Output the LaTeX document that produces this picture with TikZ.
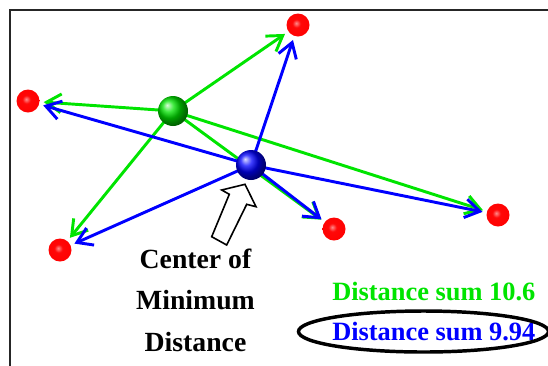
\documentclass[tikz,border=0pt]{standalone}
\usepackage{fontspec}
\setmainfont{Liberation Serif}
\usetikzlibrary{arrows.meta}
\usetikzlibrary{shadings}
\definecolor{ptgreen}{RGB}{0,228,0}
\definecolor{ptblue}{RGB}{0,0,255}
\pgfdeclareradialshading{redsphere}{\pgfpoint{-4bp}{4bp}}{color(0bp)=(red!45!white); color(9bp)=(red!97!white); color(32bp)=(red); color(48bp)=(red!80!black); color(60bp)=(red!80!black)}
\tikzset{
  redball/.style={circle, minimum size=17.25pt, inner sep=0pt, shading=redsphere},
  bigball/.style={circle, minimum size=22.5pt, inner sep=0pt, shading=ball},
  greenarrow/.style={draw=ptgreen, line width=2.2pt, -{Straight Barb[length=11pt,width=14pt]}, shorten >=3pt},
  bluearrow/.style={draw=ptblue, line width=2.2pt, -{Straight Barb[length=11pt,width=14pt]}, shorten >=3pt},
  bigtext/.style={font=\bfseries\fontsize{20.8}{25}\selectfont, inner sep=0pt},
  sumtext/.style={font=\bfseries\fontsize{19.8}{24}\selectfont, inner sep=0pt, anchor=base west}
}

\begin{document}
\begin{tikzpicture}[x=0.75pt,y=0.75pt,yscale=-1,xscale=1]
\useasboundingbox (0,0) rectangle (548,365);
\clip (0,0) rectangle (548,365);

%Frame
\draw [line width=1.5pt, color=black!85]  (9.5,380) -- (9.5,10) -- (570,10) ;

%Points
\node [redball] (ptop) at (298,25) {};
\node [redball] (pleft) at (28,101) {};
\node [redball] (pbotleft) at (60,250) {};
\node [redball] (pmid) at (334,229) {};
\node [redball] (pright) at (498,215) {};
\path (173,111) coordinate (gpos);
\path (251,165) coordinate (bpos);

%Green arrows (centroid)
\foreach \p in {ptop,pleft,pbotleft,pmid,pright}
  \draw [greenarrow]  (gpos) -- (\p) ;
%Blue arrows (minimum distance)
\foreach \p in {ptop,pleft,pbotleft,pmid,pright}
  \draw [bluearrow]  (bpos) -- (\p) ;

%Centers
\node [bigball, ball color=ptgreen] (gcenter) at (gpos) {};
\node [bigball, ball color=ptblue] (bcenter) at (bpos) {};

%Hollow arrow
\draw [line width=1.2pt, fill=white, line join=miter]  (226.7,245) -- (211.7,236.7) -- (229.3,194.3) -- (221.7,190) -- (245,184.3) -- (256,206.7) -- (246.7,204.3) -- cycle ;

% Text Node
\node [bigtext, anchor=base] (lblone) at (195.5,268) {Center of};
\node [bigtext, anchor=base] (lbltwo) at (195.5,309.5) {Minimum};
\node [bigtext, anchor=base] (lblthree) at (195.5,351) {Distance};
% Text Node
\node [sumtext, color=ptgreen] (gsum) at (332,300) {Distance sum 10.6};
\node [sumtext, color=ptblue] (bsum) at (332,340) {Distance sum 9.94};

%Ellipse
\draw [line width=2.6pt]  (423.5,331.5) ellipse [x radius=125, y radius=20.5] ;

\end{tikzpicture}
\end{document}
